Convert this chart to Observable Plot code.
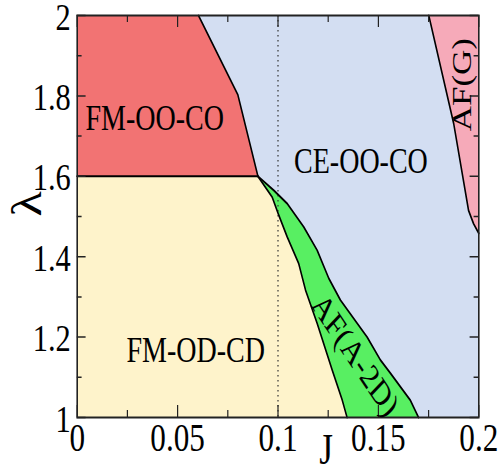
<!DOCTYPE html>
<html>
<head>
<meta charset="utf-8">
<script src="https://cdn.jsdelivr.net/npm/d3@7"></script>
<script src="https://cdn.jsdelivr.net/npm/@observablehq/plot@0.6"></script>
<style>
  html, body { margin: 0; padding: 0; background: #fff; overflow: hidden; }
  #chart { width: 626px; transform: scaleX(0.8); transform-origin: 0 0; }
  #chart svg, #chart svg text { font-family: "Liberation Serif", "Times New Roman", serif !important; }
</style>
</head>
<body>
<div id="chart"></div>
<script>
// Axis ticks and their labels
const xTicks = [0, 0.05, 0.1, 0.15, 0.2];
const xTickLabels = ["0", "0.05", "0.1", "0.15", "0.2"];
const xMinorTicks = [0.025, 0.075, 0.125, 0.175];
const yTicks = [1, 1.2, 1.4, 1.6, 1.8, 2];
const yTickLabels = ["1", "1.2", "1.4", "1.6", "1.8", "2"];
const yMinorTicks = [1.1, 1.3, 1.5, 1.7, 1.9];

// Triple point where FM-OO-CO, FM-OD-CD, AF(A-2D) and CE-OO-CO meet
const tripleJ = 0.09;
const tripleL = 1.6;

// FM-OO-CO / CE-OO-CO boundary, from top edge down to the triple point
const ooJ = [0.0604, 0.080, 0.090];
const ooL = [2.0, 1.803, 1.6];

// FM-OD-CD / AF(A-2D) boundary, triple point down to the bottom edge
const leftJ = [0.090, 0.0971, 0.1004, 0.1046, 0.1103, 0.1137, 0.1195, 0.127, 0.132, 0.1344];
const leftL = [1.6, 1.548, 1.503, 1.449, 1.383, 1.317, 1.234, 1.118, 1.043, 1.0];

// AF(A-2D) / CE-OO-CO boundary, triple point down to the bottom edge
const rightJ = [0.090, 0.0979, 0.1046, 0.1128, 0.1195, 0.1253, 0.1311, 0.1444, 0.151, 0.156, 0.1659, 0.170];
const rightL = [1.6, 1.565, 1.532, 1.474, 1.416, 1.346, 1.292, 1.2, 1.143, 1.11, 1.043, 1.0];

// CE-OO-CO / AF(G) boundary, top edge down to the right edge
const gJ = [0.1751, 0.1875, 0.1949, 0.1974, 0.2];
const gL = [2.0, 1.731, 1.515, 1.482, 1.458];

// Phase names and where they sit
const phaseNames = ["FM-OO-CO", "CE-OO-CO", "FM-OD-CD", "AF(A-2D)", "AF(G)"];
const phaseJ = [0.0386, 0.1413, 0.059, 0.1385, 0.1915];
const phaseL = [1.743, 1.636, 1.167, 1.155, 1.828];
const phaseRotate = [0, 0, 0, 50, -90];

const phaseColors = {
  ce: "#d3def2",
  fmoo: "#f27373",
  fmod: "#fef3cb",
  afa: "#58ef62",
  afg: "#f6aab9"
};

const pts = (J, L) => J.map((j, i) => ({J: j, L: L[i]}));
const rev = (a) => a.slice().reverse();

const xMin = xTicks[0], xMax = xTicks[xTicks.length - 1];
const yMin = yTicks[0], yMax = yTicks[yTicks.length - 1];

const ooPts = pts(ooJ, ooL);
const leftPts = pts(leftJ, leftL);
const rightPts = pts(rightJ, rightL);
const gPts = pts(gJ, gL);

const polyCE = [...ooPts, ...rightPts.slice(1), {J: xMax, L: yMin}, ...rev(gPts)];
const polyFMOO = [{J: xMin, L: yMax}, ...ooPts, {J: xMin, L: tripleL}];
const polyFMOD = [{J: xMin, L: tripleL}, ...leftPts, {J: xMin, L: yMin}];
const polyAFA = [...leftPts, ...rev(rightPts)];
const polyAFG = [...gPts, {J: xMax, L: yMax}];
const cdLine = [{J: xMin, L: tripleL}, {J: tripleJ, L: tripleL}];

const phases = phaseNames.map((name, i) => ({name, J: phaseJ[i], L: phaseL[i], r: phaseRotate[i]}));

const W = 626, H = 475;
const mTop = 15, mRight = 28, mBottom = 58, mLeft = 96;
const innerW = W - mLeft - mRight, innerH = H - mTop - mBottom;
const majorLenX = 12, minorLenX = 7, majorLenY = 11, minorLenY = 6;
const serif = "'Liberation Serif', 'Times New Roman', serif";

const fill = (poly, color) => Plot.line(poly, {x: "J", y: "L", fill: color, stroke: "none"});
const edge = (poly) => Plot.line(poly, {x: "J", y: "L", stroke: "#000", strokeWidth: 2, strokeLinejoin: "round"});

const chart = Plot.plot({
  width: W,
  height: H,
  marginTop: mTop,
  marginRight: mRight,
  marginBottom: mBottom,
  marginLeft: mLeft,
  style: {fontFamily: serif, color: "#000", background: "#fff"},
  x: {domain: [xMin, xMax]},
  y: {domain: [yMin, yMax]},
  marks: [
    fill(polyCE, phaseColors.ce),
    fill(polyFMOO, phaseColors.fmoo),
    fill(polyFMOD, phaseColors.fmod),
    fill(polyAFA, phaseColors.afa),
    fill(polyAFG, phaseColors.afg),
    Plot.ruleX([0.1], {stroke: "#333", strokeWidth: 1.5, strokeDasharray: "1.5,3.5"}),
    edge(cdLine),
    edge(ooPts),
    edge(leftPts),
    edge(rightPts),
    edge(gPts),
    // inward ticks on all four sides
    Plot.tickX(xTicks, {stroke: "#222", strokeWidth: 1.5, insetTop: innerH - majorLenX}),
    Plot.tickX(xTicks, {stroke: "#222", strokeWidth: 1.5, insetBottom: innerH - majorLenX}),
    Plot.tickX(xMinorTicks, {stroke: "#222", strokeWidth: 1.5, insetTop: innerH - minorLenX}),
    Plot.tickX(xMinorTicks, {stroke: "#222", strokeWidth: 1.5, insetBottom: innerH - minorLenX}),
    Plot.tickY(yTicks, {stroke: "#222", strokeWidth: 1.5, insetRight: innerW - majorLenY}),
    Plot.tickY(yTicks, {stroke: "#222", strokeWidth: 1.5, insetLeft: innerW - majorLenY}),
    Plot.tickY(yMinorTicks, {stroke: "#222", strokeWidth: 1.5, insetRight: innerW - minorLenY}),
    Plot.tickY(yMinorTicks, {stroke: "#222", strokeWidth: 1.5, insetLeft: innerW - minorLenY}),
    Plot.frame({stroke: "#222", strokeWidth: 2}),
    Plot.axisX(xTicks, {anchor: "bottom", tickSize: 0, tickPadding: 6, fontSize: 39, fontFamily: serif, label: null,
      tickFormat: (d, i) => xTickLabels[i]}),
    Plot.axisY(yTicks, {anchor: "left", tickSize: 0, tickPadding: 8, dy: 2, fontSize: 38, fontFamily: serif, label: null,
      tickFormat: (d, i) => yTickLabels[i]}),
    // axis titles
    Plot.text(["J"], {x: [0.124], frameAnchor: "bottom", dy: 32, fontSize: 44, fontFamily: serif, lineAnchor: "middle"}),
    Plot.text(["λ"], {y: [1.5], frameAnchor: "left", dx: -62, rotate: -90, fontSize: 52, fontFamily: serif, lineAnchor: "middle"}),
    // phase names
    Plot.text(phases, {x: "J", y: "L", text: "name", rotate: "r", fontSize: 35, fontFamily: serif, lineAnchor: "middle", fill: "#000"})
  ]
});

document.getElementById("chart").appendChild(chart);
</script>
</body>
</html>
